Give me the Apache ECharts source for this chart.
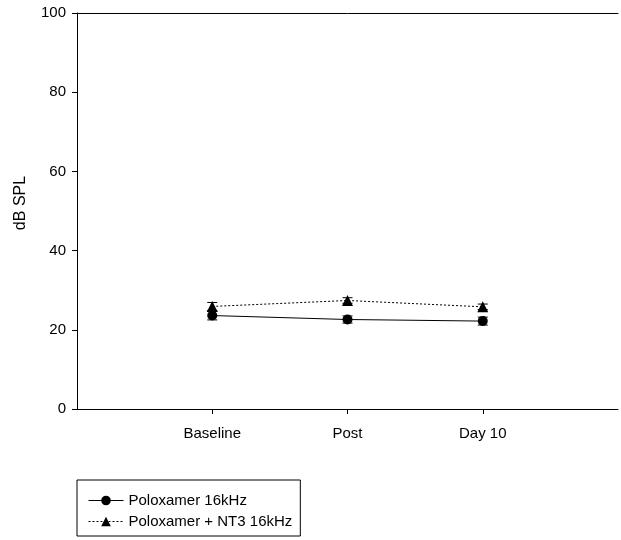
<!DOCTYPE html>
<html>
<head>
<meta charset="utf-8">
<script src="https://cdn.jsdelivr.net/npm/echarts@6/dist/echarts.min.js"></script>
<style>
  html, body { margin: 0; padding: 0; background: #fff; }
  #main { width: 621px; height: 540px; }
</style>
</head>
<body>
<div id="main"></div>
<script>
// 数据
var categories = ['Baseline', 'Post', 'Day 10'];
var yTicks = [0, 20, 40, 60, 80, 100];
var poloMean = [23.6, 22.6, 22.2];
var poloErr = [1.1, 0.9, 1.0];
var nt3Mean = [25.9, 27.4, 25.8];
var nt3Err = [1.0, 0.7, 0.7];

var font = 'Liberation Sans, Arial, sans-serif';

// 横轴两端留空位
var axisCats = [''].concat(categories).concat(['']);

function toPoints(vals) {
    var out = [];
    for (var i = 0; i < vals.length; i++) {
        out.push([i + 1, vals[i]]);
    }
    return out;
}
function toErr(vals, errs) {
    var out = [];
    for (var i = 0; i < vals.length; i++) {
        out.push([i + 1, vals[i] - errs[i], vals[i] + errs[i]]);
    }
    return out;
}

// 误差线
function renderErr(params, api) {
    var x = api.value(0);
    var lo = api.coord([x, api.value(1)]);
    var hi = api.coord([x, api.value(2)]);
    var w = 5;
    var st = { stroke: '#000', lineWidth: 1 };
    return {
        type: 'group',
        children: [
            { type: 'line', shape: { x1: lo[0], y1: lo[1], x2: hi[0], y2: hi[1] }, style: st },
            { type: 'line', shape: { x1: lo[0] - w, y1: lo[1], x2: lo[0] + w, y2: lo[1] }, style: st },
            { type: 'line', shape: { x1: hi[0] - w, y1: hi[1], x2: hi[0] + w, y2: hi[1] }, style: st }
        ]
    };
}

var chart = echarts.init(document.getElementById('main'));
var option = {
    backgroundColor: '#fff',
    animation: false,
    textStyle: { fontFamily: font },
    grid: { left: 77, width: 548, top: 13, bottom: 131 },
    legend: {
        orient: 'vertical',
        left: 77,
        top: 480,
        data: ['Poloxamer 16kHz', 'Poloxamer + NT3 16kHz'],
        borderColor: '#000',
        borderWidth: 1,
        borderRadius: 0,
        padding: [13, 8, 7, 11],
        itemWidth: 35,
        itemHeight: 12,
        itemGap: 6,
        lineStyle: { width: 1 },
        textStyle: { fontSize: 15, color: '#000', fontFamily: font }
    },
    xAxis: [{
        type: 'category',
        data: axisCats,
        boundaryGap: false,
        axisLine: { lineStyle: { color: '#000', width: 1 } },
        axisTick: {
            length: 5,
            lineStyle: { color: '#000' },
            interval: function (idx) { return idx > 0 && idx < axisCats.length - 1; }
        },
        axisLabel: { fontSize: 15, color: '#000', margin: 17, interval: 0 },
        splitLine: { show: false }
    }, {
        type: 'category',
        data: axisCats,
        boundaryGap: false,
        position: 'top',
        axisLine: { lineStyle: { color: '#000', width: 1 } },
        axisTick: { show: false },
        axisLabel: { show: false }
    }],
    yAxis: {
        type: 'value',
        min: yTicks[0],
        max: yTicks[yTicks.length - 1],
        interval: 20,
        name: 'dB SPL',
        nameLocation: 'middle',
        nameGap: 48,
        nameTextStyle: { fontSize: 16, color: '#000', padding: [0, 0, 0, 16] },
        axisLine: { show: true, lineStyle: { color: '#000', width: 1 } },
        axisTick: { show: true, length: 5, lineStyle: { color: '#000' } },
        axisLabel: { fontSize: 15, color: '#000', margin: 11 },
        splitLine: { show: false }
    },
    series: [{
        name: 'Poloxamer 16kHz',
        type: 'line',
        data: toPoints(poloMean),
        symbol: 'circle',
        symbolSize: 10,
        itemStyle: { color: '#000' },
        lineStyle: { color: '#000', width: 1 },
        z: 3
    }, {
        name: 'Poloxamer + NT3 16kHz',
        type: 'line',
        data: toPoints(nt3Mean),
        symbol: 'triangle',
        symbolSize: 11,
        itemStyle: { color: '#000' },
        lineStyle: { color: '#000', width: 1, type: [2, 2] },
        z: 3
    }, {
        type: 'custom',
        renderItem: renderErr,
        data: toErr(poloMean, poloErr),
        z: 2
    }, {
        type: 'custom',
        renderItem: renderErr,
        data: toErr(nt3Mean, nt3Err),
        z: 2
    }]
};
chart.setOption(option);
</script>
</body>
</html>
